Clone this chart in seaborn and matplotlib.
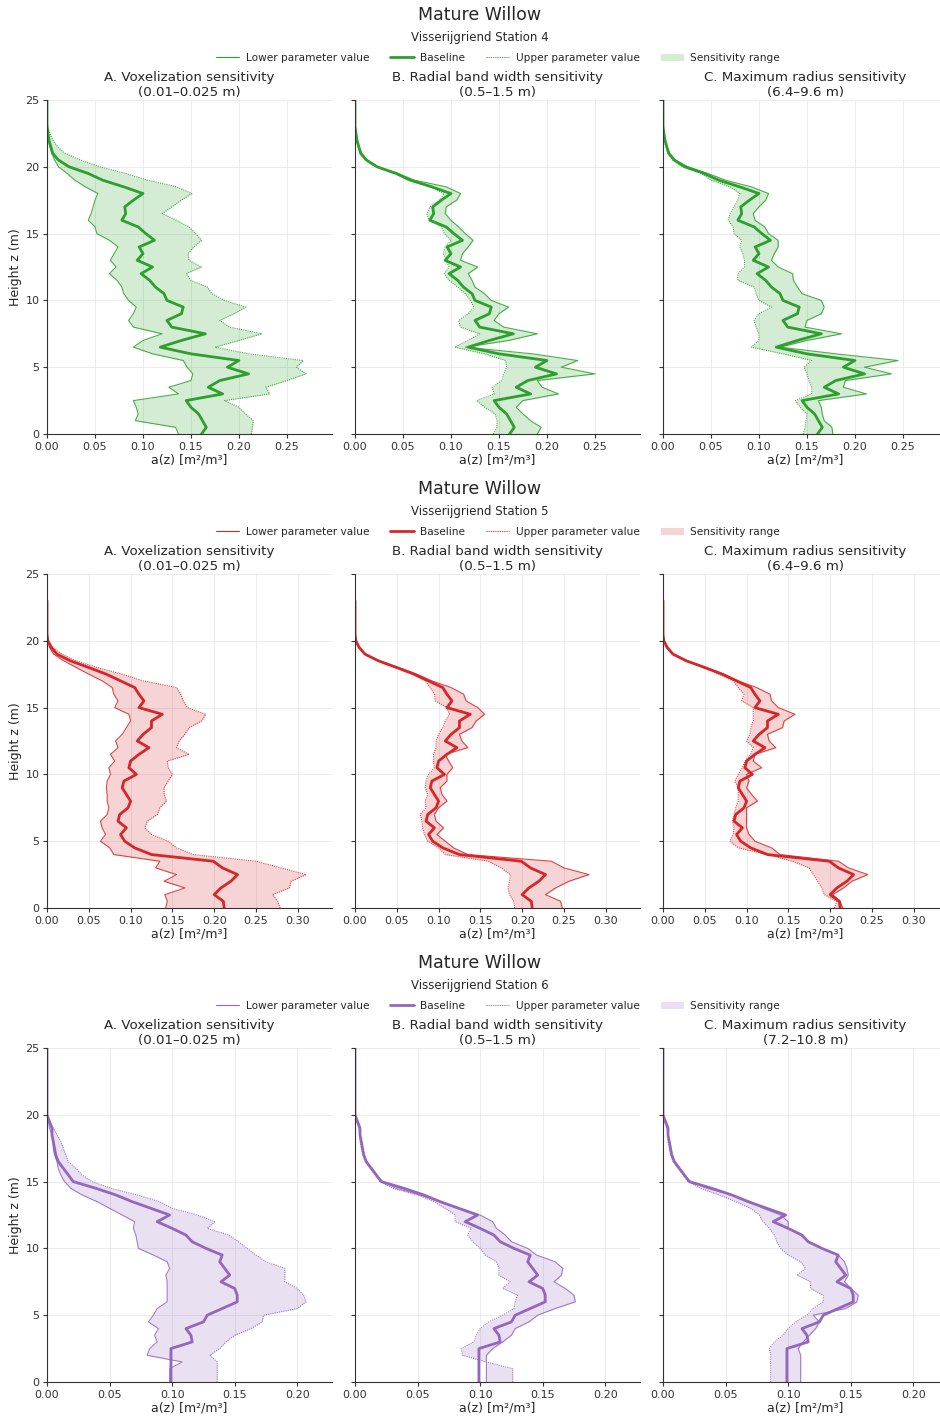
import numpy as np
import matplotlib
matplotlib.use("Agg")
import matplotlib.pyplot as plt
import seaborn as sns
from matplotlib.lines import Line2D
from matplotlib.patches import Patch
from matplotlib.ticker import MultipleLocator, FormatStrFormatter

sns.set_style("ticks")
plt.rcParams['font.family'] = ['DejaVu Sans']

# height levels (m), 0.5 m bins
HEIGHTS = np.arange(0, 25.01, 0.5)

# ---- Station 4 ----
BASE4 = [0.161, 0.166, 0.162, 0.158, 0.150, 0.145, 0.183, 0.168, 0.180, 0.210, 0.188, 0.200, 0.150, 0.118, 0.140,
         0.165, 0.130, 0.125, 0.140, 0.142, 0.125, 0.122, 0.113, 0.107, 0.098, 0.110, 0.094, 0.100, 0.096, 0.112,
         0.103, 0.095, 0.078, 0.082, 0.081, 0.090, 0.100, 0.080, 0.058, 0.043, 0.023, 0.012, 0.006, 0.004, 0.002,
         0.001, 0, 0, 0, 0, 0]
LOW4_A = [0.137, 0.134, 0.092, 0.095, 0.093, 0.090, 0.137, 0.127, 0.150, 0.152, 0.146, 0.142, 0.110, 0.090, 0.100,
          0.120, 0.090, 0.085, 0.090, 0.093, 0.085, 0.080, 0.078, 0.073, 0.065, 0.072, 0.066, 0.070, 0.074, 0.065,
          0.052, 0.050, 0.043, 0.046, 0.048, 0.050, 0.053, 0.040, 0.029, 0.021, 0.012, 0.008, 0.005, 0.003, 0.001,
          0, 0, 0, 0, 0, 0]
HIGH4_A = [0.213, 0.214, 0.215, 0.207, 0.200, 0.185, 0.232, 0.228, 0.250, 0.270, 0.260, 0.267, 0.210, 0.175, 0.200,
           0.224, 0.190, 0.180, 0.195, 0.207, 0.185, 0.172, 0.167, 0.150, 0.145, 0.161, 0.148, 0.147, 0.153, 0.161,
           0.155, 0.148, 0.135, 0.120, 0.130, 0.140, 0.151, 0.135, 0.105, 0.082, 0.055, 0.035, 0.019, 0.011, 0.006,
           0.003, 0.001, 0, 0, 0, 0]
LOW4_B = [0.190, 0.194, 0.183, 0.175, 0.168, 0.175, 0.212, 0.195, 0.190, 0.250, 0.215, 0.232, 0.185, 0.115, 0.160,
          0.190, 0.155, 0.145, 0.150, 0.160, 0.142, 0.135, 0.125, 0.122, 0.118, 0.128, 0.110, 0.112, 0.118, 0.123,
          0.115, 0.108, 0.100, 0.094, 0.095, 0.106, 0.110, 0.095, 0.062, 0.045, 0.024, 0.013, 0.007, 0.004, 0.002,
          0.001, 0, 0, 0, 0, 0]
HIGH4_B = [0.144, 0.148, 0.148, 0.146, 0.135, 0.127, 0.145, 0.143, 0.153, 0.155, 0.158, 0.157, 0.135, 0.104, 0.118,
           0.130, 0.110, 0.108, 0.118, 0.124, 0.120, 0.115, 0.107, 0.098, 0.093, 0.098, 0.095, 0.092, 0.094, 0.100,
           0.093, 0.090, 0.077, 0.075, 0.078, 0.088, 0.093, 0.078, 0.055, 0.041, 0.022, 0.011, 0.005, 0.003, 0.001,
           0, 0, 0, 0, 0, 0]
LOW4_C = [0.177, 0.176, 0.168, 0.166, 0.165, 0.162, 0.212, 0.188, 0.190, 0.238, 0.210, 0.245, 0.180, 0.122, 0.150,
          0.186, 0.148, 0.150, 0.165, 0.168, 0.165, 0.145, 0.140, 0.136, 0.135, 0.120, 0.113, 0.116, 0.120, 0.120,
          0.110, 0.106, 0.096, 0.094, 0.100, 0.107, 0.110, 0.092, 0.065, 0.047, 0.026, 0.013, 0.007, 0.004, 0.002,
          0.001, 0, 0, 0, 0, 0]
HIGH4_C = [0.146, 0.148, 0.149, 0.150, 0.143, 0.138, 0.155, 0.155, 0.152, 0.150, 0.147, 0.155, 0.125, 0.092, 0.100,
           0.100, 0.097, 0.095, 0.100, 0.113, 0.100, 0.097, 0.095, 0.078, 0.078, 0.085, 0.085, 0.083, 0.080, 0.082,
           0.074, 0.073, 0.068, 0.070, 0.074, 0.078, 0.080, 0.070, 0.050, 0.040, 0.020, 0.010, 0.005, 0.003, 0.001,
           0, 0, 0, 0, 0, 0]

# ---- Station 5 (profile stops at 23 m) ----
BASE5 = [0.212, 0.211, 0.200, 0.208, 0.220, 0.228, 0.210, 0.199, 0.125, 0.105, 0.093, 0.088, 0.095, 0.085, 0.087,
         0.097, 0.100, 0.095, 0.090, 0.092, 0.107, 0.098, 0.100, 0.110, 0.122, 0.108, 0.115, 0.125, 0.125, 0.138,
         0.110, 0.116, 0.110, 0.105, 0.088, 0.071, 0.050, 0.028, 0.012, 0.005, 0.001, 0, 0, 0, 0, 0, 0]
LOW5_A = [0.142, 0.144, 0.141, 0.165, 0.140, 0.155, 0.130, 0.135, 0.080, 0.075, 0.064, 0.070, 0.066, 0.064, 0.072,
          0.074, 0.072, 0.072, 0.071, 0.072, 0.076, 0.074, 0.081, 0.076, 0.085, 0.082, 0.090, 0.095, 0.100, 0.098,
          0.081, 0.085, 0.080, 0.078, 0.066, 0.050, 0.035, 0.020, 0.008, 0.003, 0.001, 0, 0, 0, 0, 0, 0]
HIGH5_A = [0.279, 0.276, 0.270, 0.290, 0.292, 0.310, 0.280, 0.250, 0.175, 0.155, 0.145, 0.125, 0.117, 0.120, 0.132,
           0.135, 0.143, 0.140, 0.140, 0.145, 0.150, 0.145, 0.144, 0.170, 0.155, 0.158, 0.165, 0.170, 0.185, 0.190,
           0.168, 0.163, 0.160, 0.155, 0.115, 0.090, 0.060, 0.035, 0.018, 0.007, 0.002, 0, 0, 0, 0, 0, 0]
LOW5_B = [0.248, 0.246, 0.228, 0.240, 0.256, 0.280, 0.250, 0.235, 0.135, 0.118, 0.108, 0.098, 0.106, 0.097, 0.095,
          0.100, 0.110, 0.104, 0.102, 0.110, 0.110, 0.117, 0.112, 0.108, 0.135, 0.128, 0.125, 0.140, 0.145, 0.155,
          0.147, 0.133, 0.130, 0.115, 0.092, 0.074, 0.052, 0.029, 0.012, 0.005, 0.001, 0, 0, 0, 0, 0, 0]
HIGH5_B = [0.191, 0.190, 0.185, 0.183, 0.185, 0.186, 0.175, 0.160, 0.108, 0.100, 0.087, 0.083, 0.081, 0.080, 0.078,
           0.085, 0.084, 0.087, 0.084, 0.085, 0.088, 0.095, 0.094, 0.094, 0.097, 0.097, 0.100, 0.105, 0.108, 0.113,
           0.110, 0.096, 0.095, 0.090, 0.084, 0.068, 0.048, 0.027, 0.012, 0.005, 0.001, 0, 0, 0, 0, 0, 0]
LOW5_C = [0.215, 0.212, 0.203, 0.216, 0.226, 0.245, 0.222, 0.210, 0.140, 0.130, 0.110, 0.103, 0.100, 0.100, 0.100,
          0.100, 0.113, 0.106, 0.100, 0.103, 0.100, 0.118, 0.108, 0.110, 0.135, 0.127, 0.125, 0.143, 0.145, 0.158,
          0.138, 0.130, 0.128, 0.112, 0.090, 0.073, 0.052, 0.029, 0.012, 0.005, 0.001, 0, 0, 0, 0, 0, 0]
HIGH5_C = [0.205, 0.208, 0.193, 0.190, 0.185, 0.180, 0.175, 0.155, 0.125, 0.090, 0.080, 0.084, 0.085, 0.083, 0.085,
           0.087, 0.090, 0.090, 0.090, 0.086, 0.090, 0.095, 0.098, 0.105, 0.108, 0.100, 0.104, 0.105, 0.108, 0.108,
           0.108, 0.094, 0.097, 0.090, 0.084, 0.067, 0.048, 0.027, 0.011, 0.004, 0.001, 0, 0, 0, 0, 0, 0]

# ---- Station 6 ----
BASE6 = [0.099, 0.099, 0.099, 0.099, 0.099, 0.099, 0.116, 0.115, 0.111, 0.125, 0.128, 0.140, 0.152, 0.152, 0.150,
         0.139, 0.146, 0.142, 0.138, 0.140, 0.127, 0.116, 0.111, 0.100, 0.088, 0.098, 0.083, 0.068, 0.055, 0.039,
         0.021, 0.017, 0.013, 0.009, 0.007, 0.006, 0.005, 0.004, 0.004, 0.002, 0, 0, 0, 0, 0, 0, 0, 0, 0, 0, 0]
LOW6_A = [0.098, 0.098, 0.098, 0.108, 0.080, 0.082, 0.088, 0.086, 0.089, 0.081, 0.085, 0.088, 0.096, 0.096, 0.096,
          0.096, 0.095, 0.098, 0.096, 0.085, 0.073, 0.072, 0.071, 0.069, 0.070, 0.060, 0.050, 0.040, 0.028, 0.019,
          0.014, 0.011, 0.009, 0.008, 0.006, 0.005, 0.005, 0.004, 0.002, 0.001, 0, 0, 0, 0, 0, 0, 0, 0, 0, 0, 0]
HIGH6_A = [0.136, 0.136, 0.136, 0.136, 0.130, 0.138, 0.143, 0.150, 0.163, 0.172, 0.173, 0.200, 0.207, 0.205, 0.200,
           0.190, 0.190, 0.190, 0.175, 0.167, 0.160, 0.153, 0.145, 0.128, 0.134, 0.120, 0.100, 0.090, 0.072, 0.051,
           0.036, 0.028, 0.023, 0.017, 0.015, 0.013, 0.011, 0.008, 0.005, 0.002, 0, 0, 0, 0, 0, 0, 0, 0, 0, 0, 0]
LOW6_B = [0.105, 0.105, 0.105, 0.105, 0.105, 0.110, 0.118, 0.125, 0.128, 0.139, 0.146, 0.160, 0.176, 0.175, 0.168,
          0.159, 0.165, 0.166, 0.160, 0.145, 0.138, 0.125, 0.120, 0.113, 0.110, 0.100, 0.082, 0.068, 0.052, 0.033,
          0.022, 0.017, 0.013, 0.009, 0.007, 0.006, 0.005, 0.004, 0.004, 0.002, 0, 0, 0, 0, 0, 0, 0, 0, 0, 0, 0]
HIGH6_B = [0.126, 0.126, 0.126, 0.105, 0.086, 0.085, 0.095, 0.097, 0.100, 0.107, 0.118, 0.127, 0.128, 0.130, 0.118,
           0.124, 0.115, 0.115, 0.113, 0.104, 0.100, 0.094, 0.090, 0.093, 0.080, 0.080, 0.072, 0.063, 0.050, 0.030,
           0.020, 0.016, 0.012, 0.008, 0.006, 0.005, 0.004, 0.004, 0.003, 0.001, 0, 0, 0, 0, 0, 0, 0, 0, 0, 0, 0]
LOW6_C = [0.110, 0.110, 0.110, 0.110, 0.110, 0.108, 0.112, 0.117, 0.122, 0.125, 0.120, 0.146, 0.155, 0.156, 0.150,
          0.145, 0.148, 0.147, 0.145, 0.140, 0.127, 0.117, 0.110, 0.100, 0.100, 0.094, 0.080, 0.070, 0.055, 0.035,
          0.022, 0.017, 0.013, 0.009, 0.007, 0.006, 0.005, 0.004, 0.004, 0.002, 0, 0, 0, 0, 0, 0, 0, 0, 0, 0, 0]
HIGH6_C = [0.086, 0.086, 0.086, 0.086, 0.086, 0.085, 0.089, 0.096, 0.100, 0.106, 0.115, 0.120, 0.128, 0.128, 0.118,
           0.118, 0.107, 0.114, 0.110, 0.100, 0.094, 0.091, 0.089, 0.085, 0.080, 0.077, 0.070, 0.058, 0.045, 0.030,
           0.020, 0.016, 0.012, 0.008, 0.006, 0.005, 0.004, 0.004, 0.003, 0.001, 0, 0, 0, 0, 0, 0, 0, 0, 0, 0, 0]

PANEL_TITLES = ["A. Voxelization sensitivity", "B. Radial band width sensitivity", "C. Maximum radius sensitivity"]

STATIONS = [
    dict(name="Visserijgriend Station 4", color="#2ca02c", base=BASE4,
         low=[LOW4_A, LOW4_B, LOW4_C], high=[HIGH4_A, HIGH4_B, HIGH4_C],
         ranges=["(0.01–0.025 m)", "(0.5–1.5 m)", "(6.4–9.6 m)"]),
    dict(name="Visserijgriend Station 5", color="#d62728", base=BASE5,
         low=[LOW5_A, LOW5_B, LOW5_C], high=[HIGH5_A, HIGH5_B, HIGH5_C],
         ranges=["(0.01–0.025 m)", "(0.5–1.5 m)", "(6.4–9.6 m)"]),
    dict(name="Visserijgriend Station 6", color="#9467bd", base=BASE6,
         low=[LOW6_A, LOW6_B, LOW6_C], high=[HIGH6_A, HIGH6_B, HIGH6_C],
         ranges=["(0.01–0.025 m)", "(0.5–1.5 m)", "(7.2–10.8 m)"]),
]

W, H = 940, 1416
fig = plt.figure(figsize=(W / 100, H / 100), dpi=100)

ROW_STEP = 474
AX_LEFTS = [47, 355, 663]
AX_W = 285
AX_TOP, AX_BOT = 100, 434


def fx(px):
    return px / W


def fy(py):
    return 1 - py / H


for r, st in enumerate(STATIONS):
    off = r * ROW_STEP
    col = st["color"]
    fig.text(fx(480), fy(15 + off), "Mature Willow", ha="center", va="center", fontsize=12.5)
    fig.text(fx(480), fy(37 + off), st["name"], ha="center", va="center", fontsize=8.5)

    xmax = 1.1 * max(max(v) for v in st["high"] + st["low"])
    base = np.array(st["base"])
    z_all = HEIGHTS[:len(base)]

    for c in range(3):
        ax = fig.add_axes([fx(AX_LEFTS[c]), fy(AX_BOT + off), fx(AX_W), (AX_BOT - AX_TOP) / H])
        lo = np.array(st["low"][c])
        hi = np.array(st["high"][c])
        ax.fill_betweenx(z_all, lo, hi, color=col, alpha=0.2, lw=0)
        sns.lineplot(x=lo, y=z_all, orient="y", ax=ax, color=col, lw=0.8, alpha=0.85, estimator=None)
        sns.lineplot(x=base, y=z_all, orient="y", ax=ax, color=col, lw=2.0, estimator=None)
        sns.lineplot(x=hi, y=z_all, orient="y", ax=ax, color=col, lw=0.8, ls=(0, (1, 1)), alpha=0.85,
                     estimator=None)

        ax.set_xlim(0, xmax)
        ax.set_ylim(0, 25)
        ax.xaxis.set_major_locator(MultipleLocator(0.05))
        ax.xaxis.set_major_formatter(FormatStrFormatter("%.2f"))
        ax.yaxis.set_major_locator(MultipleLocator(5))
        ax.grid(True, color="#e8e8e8", lw=0.6)
        ax.set_axisbelow(True)
        ax.tick_params(labelsize=8, length=3, width=0.8, pad=2.5, colors="#333333")
        ax.set_xlabel("a(z) [m²/m³]", fontsize=9, labelpad=1)
        if c == 0:
            ax.set_ylabel("Height z (m)", fontsize=9, labelpad=2)
        else:
            ax.set_ylabel("")
            ax.tick_params(labelleft=False)
        ax.set_title(PANEL_TITLES[c] + "\n" + st["ranges"][c], fontsize=9.6, pad=3, linespacing=1.15)
        sns.despine(ax=ax)
        for s in ["left", "bottom"]:
            ax.spines[s].set_color("#333333")
            ax.spines[s].set_linewidth(0.8)

    handles = [Line2D([], [], color=col, lw=0.8),
               Line2D([], [], color=col, lw=2.0),
               Line2D([], [], color=col, lw=0.8, ls=(0, (1, 1))),
               Patch(facecolor=col, alpha=0.2, edgecolor="none")]
    labels = ["Lower parameter value", "Baseline", "Upper parameter value", "Sensitivity range"]
    fig.legend(handles, labels, loc="center", bbox_to_anchor=(fx(498), fy(58 + off)), ncol=4,
               frameon=False, fontsize=7.6, handlelength=2.2, columnspacing=2.0, handletextpad=0.6)

fig.savefig("out.png", dpi=100)
